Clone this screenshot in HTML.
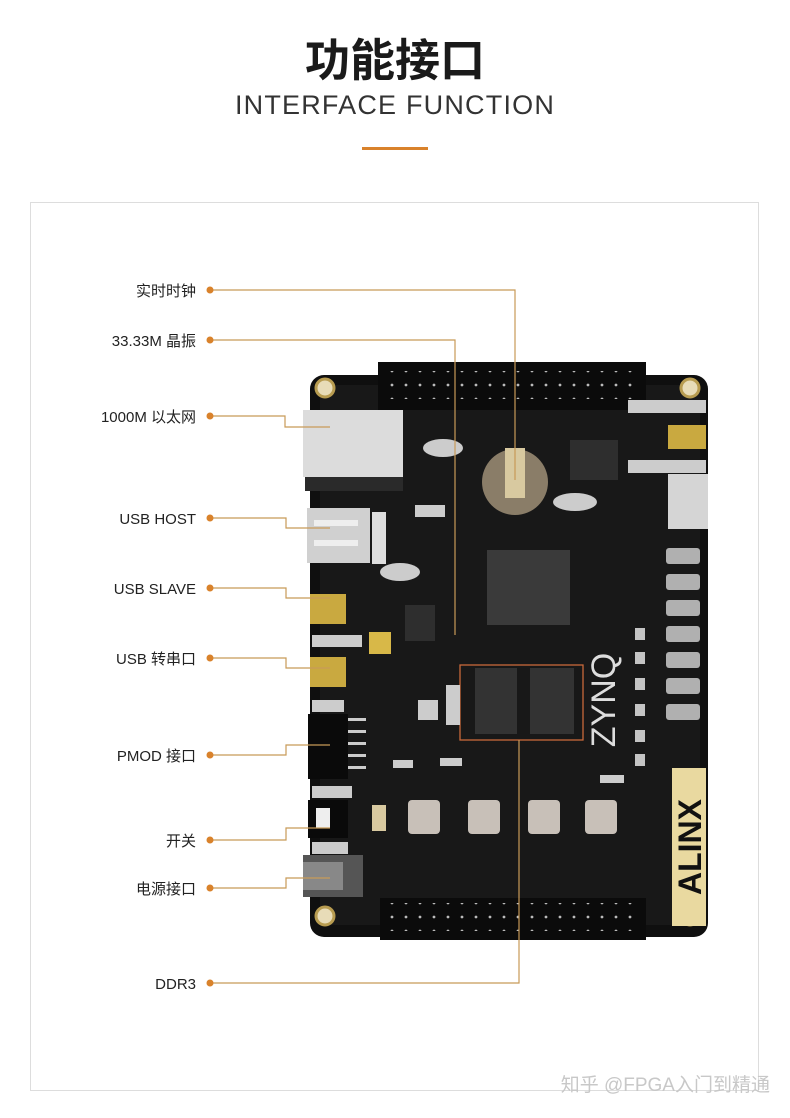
<!DOCTYPE html>
<html><head><meta charset="utf-8"><style>
html,body{margin:0;padding:0;background:#fff;}
body{width:790px;height:1118px;position:relative;overflow:hidden;font-family:"Liberation Sans","Noto Sans CJK SC",sans-serif;}
</style></head><body>
<svg width="790" height="1118" viewBox="0 0 790 1118" xmlns="http://www.w3.org/2000/svg" style="position:absolute;left:0;top:0">
<defs>
<pattern id="pins" x="388" y="0" width="14" height="14" patternUnits="userSpaceOnUse"><circle cx="4" cy="7" r="1.4" fill="#bbb"/></pattern>
</defs>
<text x="395" y="76" text-anchor="middle" font-family="Noto Sans CJK SC, sans-serif" font-weight="bold" font-size="45" fill="#1a1a1a">功能接口</text>
<text x="395" y="114" text-anchor="middle" font-family="Liberation Sans, sans-serif" font-size="27" letter-spacing="1.2" fill="#333">INTERFACE FUNCTION</text>
<rect x="362" y="147" width="66" height="3" fill="#d9822b"/>
<rect x="30.5" y="202.5" width="728" height="888" fill="none" stroke="#ddd" stroke-width="1"/>

<rect x="310" y="375" width="398" height="562" rx="14" fill="#0f0f0f"/>
<rect x="320" y="385" width="380" height="540" fill="#181818"/>
<rect x="378" y="362" width="268" height="48" fill="#0b0b0b"/>
<rect x="388" y="371" width="250" height="28" fill="url(#pins)"/>
<rect x="380" y="898" width="266" height="42" fill="#0b0b0b"/>
<rect x="388" y="903" width="250" height="28" fill="url(#pins)"/>
<g fill="#e8dcb8" stroke="#b89c50" stroke-width="3">
<circle cx="325" cy="388" r="9"/><circle cx="690" cy="388" r="9"/>
<circle cx="325" cy="916" r="9"/><circle cx="690" cy="916" r="9"/>
</g>
<rect x="303" y="410" width="100" height="67" fill="#dcdcdc"/>
<rect x="305" y="477" width="98" height="14" fill="#2a2a2a"/>
<rect x="307" y="508" width="63" height="55" fill="#d0d0d0"/>
<rect x="314" y="520" width="44" height="6" fill="#eee"/><rect x="314" y="540" width="44" height="6" fill="#eee"/>
<rect x="372" y="512" width="14" height="52" fill="#ddd"/>
<rect x="310" y="594" width="36" height="30" fill="#c9a940"/>
<rect x="310" y="657" width="36" height="30" fill="#c9a940"/>
<rect x="312" y="635" width="50" height="12" fill="#ccc"/>
<rect x="312" y="700" width="32" height="12" fill="#ccc"/>
<rect x="369" y="632" width="22" height="22" fill="#d8b848"/>
<rect x="308" y="714" width="40" height="65" fill="#0a0a0a"/>
<g fill="#ccc"><rect x="348" y="718" width="18" height="3"/><rect x="348" y="730" width="18" height="3"/><rect x="348" y="742" width="18" height="3"/><rect x="348" y="754" width="18" height="3"/><rect x="348" y="766" width="18" height="3"/></g>
<rect x="312" y="786" width="40" height="12" fill="#ccc"/>
<rect x="308" y="800" width="40" height="38" fill="#0a0a0a"/>
<rect x="316" y="808" width="14" height="20" fill="#eee"/>
<rect x="312" y="842" width="36" height="12" fill="#ccc"/>
<rect x="372" y="805" width="14" height="26" fill="#d8c9a0"/>
<rect x="303" y="855" width="60" height="42" fill="#555"/>
<rect x="303" y="862" width="40" height="28" fill="#888"/>
<rect x="628" y="400" width="78" height="13" fill="#ccc"/>
<rect x="668" y="425" width="38" height="24" fill="#c9a940"/>
<rect x="628" y="460" width="78" height="13" fill="#ccc"/>
<rect x="668" y="474" width="40" height="55" fill="#d5d5d5"/>
<g fill="#b0b0b0">
<rect x="666" y="548" width="34" height="16" rx="3"/><rect x="666" y="574" width="34" height="16" rx="3"/>
<rect x="666" y="600" width="34" height="16" rx="3"/><rect x="666" y="626" width="34" height="16" rx="3"/>
<rect x="666" y="652" width="34" height="16" rx="3"/><rect x="666" y="678" width="34" height="16" rx="3"/>
<rect x="666" y="704" width="34" height="16" rx="3"/>
</g>
<g fill="#c4c4c4"><rect x="635" y="628" width="10" height="12"/><rect x="635" y="652" width="10" height="12"/><rect x="635" y="678" width="10" height="12"/><rect x="635" y="704" width="10" height="12"/><rect x="635" y="730" width="10" height="12"/><rect x="635" y="754" width="10" height="12"/></g>
<rect x="672" y="768" width="34" height="158" fill="#e9d9a0"/>
<text transform="translate(701,847) rotate(-90)" text-anchor="middle" font-family="Liberation Sans,sans-serif" font-weight="bold" font-size="32" fill="#111">ALINX</text>
<text transform="translate(615,700) rotate(-90)" text-anchor="middle" font-family="Liberation Sans,sans-serif" font-size="34" fill="#ddd">ZYNQ</text>
<circle cx="515" cy="482" r="33" fill="#8a7d68"/>
<rect x="505" y="448" width="20" height="50" fill="#d8c9a0"/>
<ellipse cx="443" cy="448" rx="20" ry="9" fill="#ccc"/>
<ellipse cx="575" cy="502" rx="22" ry="9" fill="#ccc"/>
<ellipse cx="400" cy="572" rx="20" ry="9" fill="#ccc"/>
<rect x="570" y="440" width="48" height="40" fill="#2e2e2e"/>
<rect x="487" y="550" width="83" height="75" fill="#3a3a3a"/>
<rect x="405" y="605" width="30" height="36" fill="#2e2e2e"/>
<rect x="475" y="668" width="42" height="66" fill="#333"/>
<rect x="530" y="668" width="44" height="66" fill="#333"/>
<rect x="460" y="665" width="123" height="75" fill="none" stroke="#c8693a" stroke-width="1.3"/>
<g fill="#c8c0b8"><rect x="408" y="800" width="32" height="34" rx="4"/><rect x="468" y="800" width="32" height="34" rx="4"/><rect x="528" y="800" width="32" height="34" rx="4"/><rect x="585" y="800" width="32" height="34" rx="4"/></g>
<g fill="#ccc"><rect x="393" y="760" width="20" height="8"/><rect x="440" y="758" width="22" height="8"/><rect x="600" y="775" width="24" height="8"/><rect x="415" y="505" width="30" height="12"/><rect x="418" y="700" width="20" height="20"/><rect x="446" y="685" width="14" height="40"/></g>

<g fill="none" stroke="#c89a58" stroke-width="1.2">
<polyline points="210,290 515,290 515,480"/>
<polyline points="210,340 455,340 455,635"/>
<polyline points="210,416 285,416 285,427 330,427"/>
<polyline points="210,518 286,518 286,528 330,528"/>
<polyline points="210,588 286,588 286,598 330,598"/>
<polyline points="210,658 286,658 286,668 330,668"/>
<polyline points="210,755 286,755 286,745 330,745"/>
<polyline points="210,840 286,840 286,828 330,828"/>
<polyline points="210,888 286,888 286,878 330,878"/>
<polyline points="210,983 519,983 519,740"/>
</g>
<g fill="#d9822b">
<circle cx="210" cy="290" r="3.5"/><circle cx="210" cy="340" r="3.5"/><circle cx="210" cy="416" r="3.5"/><circle cx="210" cy="518" r="3.5"/><circle cx="210" cy="588" r="3.5"/><circle cx="210" cy="658" r="3.5"/><circle cx="210" cy="755" r="3.5"/><circle cx="210" cy="840" r="3.5"/><circle cx="210" cy="888" r="3.5"/><circle cx="210" cy="983" r="3.5"/>
</g>
<g font-family="Liberation Sans, Noto Sans CJK SC, sans-serif" font-size="15" fill="#222" text-anchor="end">
<text x="196" y="296">实时时钟</text>
<text x="196" y="346">33.33M 晶振</text>
<text x="196" y="422">1000M 以太网</text>
<text x="196" y="524">USB HOST</text>
<text x="196" y="594">USB SLAVE</text>
<text x="196" y="664">USB 转串口</text>
<text x="196" y="761">PMOD 接口</text>
<text x="196" y="846">开关</text>
<text x="196" y="894">电源接口</text>
<text x="196" y="989">DDR3</text>
</g>
<text x="770" y="1091" text-anchor="end" font-family="Liberation Sans, Noto Sans CJK SC, sans-serif" font-size="19" fill="#c8c8c8">知乎 @FPGA入门到精通</text>
</svg>
</body></html>
